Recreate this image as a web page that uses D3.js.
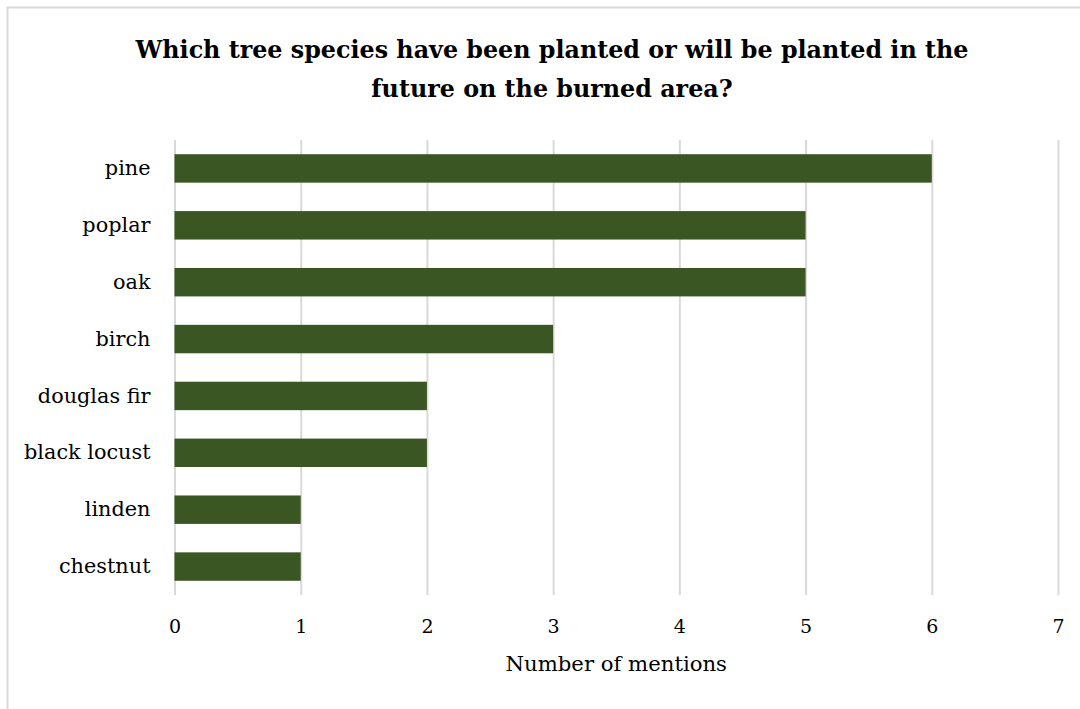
<html>
<head>
<script src="https://d3js.org/d3.v7.min.js"></script>
<style>
  body { margin: 0; background: #fff; }
</style>
</head>
<body>
<svg id="chart" width="1080" height="709"></svg>
<script>
// data
var species = ["pine", "poplar", "oak", "birch", "douglas fir", "black locust", "linden", "chestnut"];
var mentions = [6, 5, 5, 3, 2, 2, 1, 1];
var xTicks = [0, 1, 2, 3, 4, 5, 6, 7];
var titleLines = ["Which tree species have been planted or will be planted in the",
                  "future on the burned area?"];

var svg = d3.select("#chart");
var font = "'DejaVu Serif', 'Liberation Serif', serif";

// outer frame (only left/top visible in the picture)
svg.append("rect")
  .attr("x", 7.5).attr("y", 7.5)
  .attr("width", 1200).attr("height", 800)
  .attr("fill", "none")
  .attr("stroke", "#d9d9d9")
  .attr("stroke-width", 2);

// title
svg.append("g").selectAll("text")
  .data(titleLines)
  .enter().append("text")
    .attr("x", 552)
    .attr("y", function(d, i) { return 58 + i * 39; })
    .attr("text-anchor", "middle")
    .style("font-family", font)
    .style("font-weight", "bold")
    .style("font-size", "23.8px")
    .text(function(d) { return d; });

var pLeft = 174.5, pRight = 1058, pTop = 140, pBottom = 595;

var x = d3.scaleLinear().domain([0, 7]).range([pLeft, pRight]);
var y = d3.scaleBand().domain(species).range([pTop, pBottom]).paddingInner(0.5).paddingOuter(0.25);

// gridlines
svg.append("g")
  .attr("transform", "translate(0," + pBottom + ")")
  .call(d3.axisBottom(x).tickValues(xTicks).tickSize(-(pBottom - pTop)).tickFormat(""))
  .call(function(g) { g.select(".domain").remove(); })
  .call(function(g) { g.selectAll("line").attr("stroke", "#d9d9d9").attr("stroke-width", 2); });

// bars
svg.append("g").selectAll("rect")
  .data(species)
  .enter().append("rect")
    .attr("x", x(0))
    .attr("y", function(d) { return y(d); })
    .attr("width", function(d, i) { return x(mentions[i]) - x(0); })
    .attr("height", y.bandwidth())
    .attr("fill", "#3a5623");

// x tick labels
svg.append("g")
  .attr("transform", "translate(0," + pBottom + ")")
  .call(d3.axisBottom(x).tickValues(xTicks).tickSize(0).tickPadding(25).tickFormat(d3.format("d")))
  .call(function(g) { g.select(".domain").remove(); })
  .call(function(g) {
    g.selectAll("text").attr("fill", "#000")
      .style("font-family", font).style("font-size", "19px");
  });

// y labels
svg.append("g")
  .attr("transform", "translate(" + pLeft + ",0)")
  .call(d3.axisLeft(y).tickSize(0).tickPadding(24))
  .call(function(g) { g.select(".domain").remove(); })
  .call(function(g) {
    g.selectAll("text").attr("fill", "#000")
      .style("font-family", font).style("font-size", "20.8px");
  });

// axis title
svg.append("text")
  .attr("x", (pLeft + pRight) / 2)
  .attr("y", 671)
  .attr("text-anchor", "middle")
  .style("font-family", font)
  .style("font-size", "21.2px")
  .text("Number of mentions");
</script>
</body>
</html>
